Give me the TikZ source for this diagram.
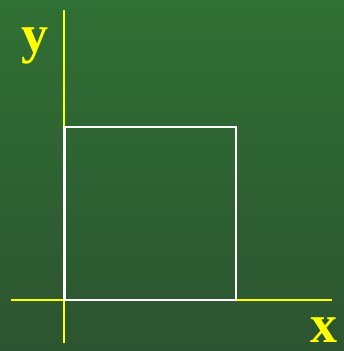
\documentclass[tikz,border=0pt]{standalone}
\usepackage{fontspec}
\setmainfont{Liberation Serif}
\definecolor{bgtop}{RGB}{48,112,52}
\definecolor{bgbot}{RGB}{44,84,48}
\definecolor{axisyellow}{RGB}{255,255,0}
\tikzset{
  axis/.style={draw=axisyellow, line width=2.4pt},
  sq/.style={draw=white, line width=2.4pt},
  lab/.style={text=axisyellow, font=\fontsize{54}{54}\selectfont\bfseries, inner sep=0pt, anchor=base}
}
\begin{document}
\begin{tikzpicture}[x=1pt,y=-1pt]
\useasboundingbox (0,0) rectangle (344,351);
\shade[top color=bgtop, bottom color=bgbot] (0,0) rectangle (344,351);
\coordinate (vt) at (64,10);
\coordinate (vb) at (64,343);
\coordinate (hl) at (11,300);
\coordinate (hr) at (332,300);
\draw[axis] (vt) -- (vb);
\draw[axis] (hl) -- (hr);
\coordinate (s1) at (64.5,127);
\coordinate (s2) at (236,300);
\draw[sq] (s1) rectangle (s2);
\node[lab] (ylab) at (35,52) {y};
\node[lab] (xlab) at (324,342) {x};
\end{tikzpicture}
\end{document}
